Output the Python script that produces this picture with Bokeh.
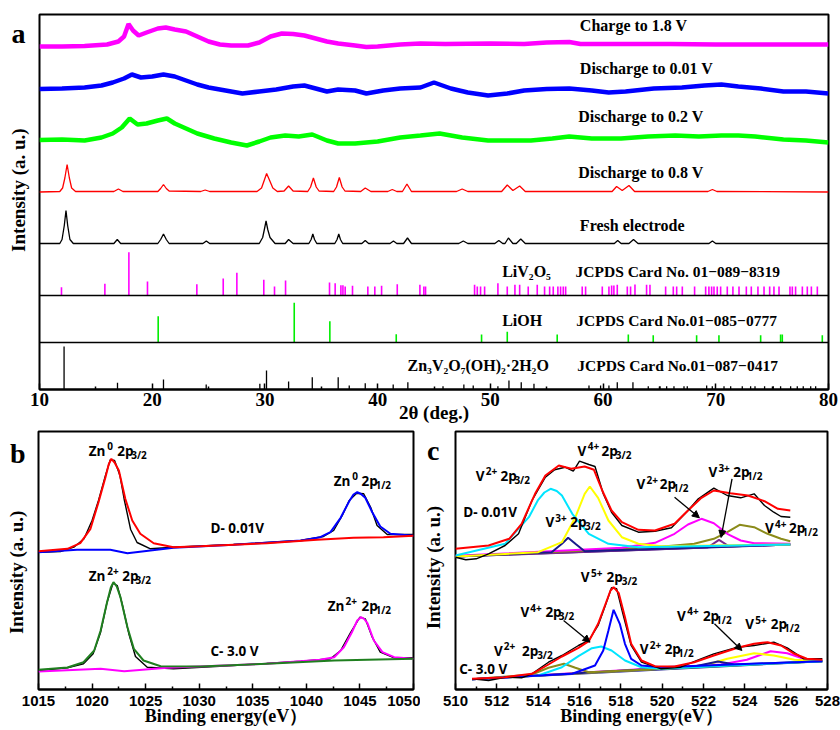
import numpy as np
from bokeh.plotting import figure
from bokeh.layouts import column, row
from bokeh.models import Range1d, Label, Arrow, NormalHead, Span, FixedTicker
from bokeh.embed import file_html
from bokeh.resources import INLINE

# ---------------- Panel a : XRD (2theta, relative intensity) ----------------
charge18_x = [10, 12, 14, 16, 17, 17.5, 17.9, 18.3, 18.8, 19.5, 20.5, 21.2, 22, 23, 24, 25, 26, 27, 28.5, 29.5,
              30.5, 31.5, 32.5, 33.5, 34.5, 35.5, 36.5, 38, 39, 40, 42, 43.8, 46, 50, 53, 55, 57, 58, 62, 66, 70, 75, 80]
charge18_y = [0, 0, 0.5, 2, 5, 10, 22.5, 16, 11, 14, 18, 19, 17, 15, 10, 5, 2, 1, 1, 4,
              10, 13, 12.5, 11, 8, 5, 3, 1, -0.5, 0, 2, 3, 2.5, 3, 2.5, 4, 4.5, 2.5, 2.5, 2.5, 2, 2, 2]

dis001_x = [10, 12, 14, 15.5, 16.5, 17.5, 18.2, 19, 20, 21, 22, 23, 24, 25, 26.5, 28, 29.5, 31, 32.5, 33.5,
            34.5, 35.5, 36.5, 38, 39, 40.5, 42, 43.8, 45, 46.5, 48, 49.8, 51.5, 53, 55, 57, 59, 60.5, 62, 64.5,
            67, 69, 70.5, 72, 74, 76, 78, 80]
dis001_y = [-0.5, 0, 1, 3, 6, 10, 14, 11, 12, 14, 12, 8, 4, 1, -2, -5, -3, -1, 2, 3,
            0, -3, -1, -2, -5, -2, 0, 1, 6, 0, -4, -7, -5, -2, -0.5, 0, -2, -4, -3, 0,
            1, 3, 4, 2, 0, -3, -3, -5]

dis02_x = [10, 12, 14, 15.5, 16.5, 17.3, 18, 18.7, 19.5, 20.5, 21.3, 22, 23, 24, 25.5, 27, 28.4, 29.5, 30.5, 31.8,
           33, 34.2, 35.5, 36.5, 38, 40, 42, 43.8, 45.5, 47.5, 49.8, 52, 53.6, 55.5, 57, 59, 61.6, 64, 66.4, 68.5,
           70.5, 72, 73.5, 76, 78, 80]
dis02_y = [0.5, 1, 0, 3, 7, 13, 22, 16, 17, 20, 22, 17, 12, 7, 2, -2, -5, -1, 3, 5,
           4, 6, 0, -3, -3, -1, 3, 5, 7, 3, 0, 0, 0, 2, 4, 2, 2, 4, 5, 4,
           5, 5, 4, 1, 0, -2]

dis08_x = [10, 11.8, 12.05, 12.25, 12.45, 12.65, 12.85, 13.2, 16.6, 17.0, 17.4, 20.5, 20.75, 21.0, 21.25, 21.5,
           24.3, 24.7, 25.1, 29.3, 29.7, 29.95, 30.15, 30.4, 30.7, 31.1, 31.7, 32.1, 32.5, 33.8, 34.05, 34.3,
           34.55, 34.8, 36.1, 36.35, 36.6, 36.85, 37.1, 38.5, 38.9, 39.4, 40.9, 41.3, 41.7, 42.2, 42.6, 43.0,
           47.0, 47.5, 48.0, 51.0, 51.5, 52.0, 52.6, 53.1, 60.8, 61.2, 61.7, 62.3, 62.8, 69.3, 69.7, 70.1, 80]
dis08_y = [0, 0.5, 4, 14, 27.5, 14, 4, 0.5, 0.5, 3, 0.5, 0.5, 3.5, 7.5, 3.5, 1,
           0.5, 2, 0.5, 0.5, 4, 12, 18.5, 12, 4, 0.5, 1, 6, 1, 0.5, 5, 14,
           5, 1, 0.5, 5, 14.5, 5, 1, 0.5, 4, 0.5, 0.5, 2.5, 0.5, 0.5, 8, 0.5,
           0.5, 3, 0.5, 0.5, 7, 1.5, 6, 0.5, 0.5, 5.5, 1.5, 6.5, 0.5, 0.5, 2.5, 0.5, 0]

fresh_x = [10, 11.8, 12.0, 12.2, 12.35, 12.5, 12.7, 13.0, 16.6, 16.9, 17.2, 20.5, 20.75, 21.0, 21.25, 21.5,
           24.5, 24.8, 25.1, 29.5, 29.8, 29.95, 30.1, 30.25, 30.45, 30.9, 31.8, 32.1, 32.5, 33.9, 34.1, 34.25,
           34.4, 34.6, 36.2, 36.4, 36.55, 36.7, 36.9, 38.6, 38.9, 39.2, 41.1, 41.4, 41.7, 42.3, 42.65, 43.0,
           47.2, 47.6, 48.0, 50.4, 50.75, 51.1, 51.3, 51.6, 52.0, 52.3, 52.7, 53.1, 61.0, 61.3, 61.6, 62.3,
           62.7, 63.1, 69.4, 69.7, 70.0, 80]
fresh_y = [0, 0, 4, 18, 33, 18, 4, 0, 0, 4, 0, 0, 4, 9.5, 4, 0,
           0, 2.5, 0, 0, 6, 14, 22.5, 14, 6, 0, 0, 4, 0, 0, 4, 9.5,
           4, 0, 0, 4, 9.5, 4, 0, 0, 3, 0, 0, 2.5, 0, 0, 5.5, 0,
           0, 2.5, 0, 0, 3, 0, 0, 5.5, 0, 0, 4.5, 0, 0, 3, 0, 0,
           4, 0, 0, 2.5, 0, 0]

liv2o5_pos = [11.95, 15.8, 17.93, 19.58, 23.96, 26.3, 27.51, 29.9, 30.85, 31.83, 35.73, 36.23, 36.74, 36.92,
              37.12, 37.77, 39.13, 39.75, 40.35, 41.74, 43.75, 44.1, 44.25, 48.6, 48.84, 49.13, 49.49, 50.67,
              51.5, 52.18, 52.6, 53.36, 54.16, 54.81, 55.26, 55.58, 55.99, 56.23, 56.47, 56.68, 58.15, 58.45,
              59.93, 60.52, 60.76, 60.96, 61.26, 62.15, 62.44, 62.83, 63.86, 64.16, 65.55, 66.23, 66.53, 67.03,
              68.12, 69.1, 69.39, 69.63, 69.84, 70.13, 70.43, 71.02, 71.52, 72.06, 72.71, 73.15, 73.74, 74.28,
              74.78, 75.16, 75.61, 76.58, 76.79, 77.08, 77.68, 78.12, 78.48, 79.01]
liv2o5_int = [8.3, 11.7, 43.3, 14, 11.3, 17, 22.7, 15.7, 9, 15, 13, 12.3, 10.3, 10.3,
              9, 9.7, 9, 9, 9.7, 11.3, 10.7, 9, 9, 10.7, 9, 9, 9, 12.3,
              9, 10.7, 10.7, 9, 10.7, 9, 9, 9, 9, 9, 9, 9, 9, 9,
              9, 9, 10, 10, 10.7, 9, 9, 11, 10.7, 10.7, 9, 9, 9, 9,
              9, 9, 9, 9, 9, 9, 9, 9, 9, 9, 9, 9, 9, 9,
              9, 9, 9, 9, 9, 9, 9, 9, 9, 9]

lioh_pos = [20.53, 32.6, 35.76, 41.65, 49.22, 51.5, 55.93, 62.24, 64.45, 68.3, 70.28, 73.98, 75.75, 75.9, 79.45]
lioh_int = [26.3, 39.7, 21.3, 8.3, 8, 10.7, 8, 8, 7.3, 7.3, 7.3, 7.3, 8, 8, 7.3]

znvo_pos = [12.18, 16.92, 21.0, 24.79, 29.55, 30.14, 32.1, 34.2, 36.5, 37.48, 38.9, 41.38, 42.68, 45.8, 47.65,
            48.48, 50.67, 51.65, 52.74, 53.87, 58.75, 59.78, 60.52, 61.26, 62.65, 64.01, 65.05, 65.64, 66.29,
            67.18, 67.47, 69.19, 69.69, 70.73, 71.32, 72.35, 73.09, 73.48, 74.33, 75.1, 75.75, 76.64, 77.23,
            77.76, 78.42, 78.86]
znvo_int = [43, 6.7, 10, 5, 5.7, 19, 8, 12.3, 12.3, 4, 6.3, 5, 7.3, 3.3, 5,
            4, 3.3, 9, 7.3, 5.7, 4, 4, 4, 7.3, 7.3, 3.3, 3.3, 3.3, 3.3,
            3.3, 3.3, 4, 3.3, 3.3, 3.3, 3.3, 3.3, 3.3, 3.3, 3.3, 3.3, 3.3, 3.3,
            3.3, 3.3, 3.3]

xrd_ticks = [10, 20, 30, 40, 50, 60, 70, 80]

# ---------------- Panel b : Zn 2p XPS ----------------
zn_d_data_x = [1015.0, 1017.05, 1018.3, 1019.25, 1020.0, 1020.6, 1021.25, 1021.7, 1022.1, 1022.6, 1023.0, 1023.6,
               1024.2, 1025.45, 1027.6, 1033.2, 1039.45, 1041.6, 1042.55, 1043.35, 1044.0, 1044.7, 1045.35,
               1046.0, 1046.6, 1047.55, 1050.0]
zn_d_data_y = [137.3, 138, 142.3, 150.7, 169, 189, 214, 229.7, 229, 214, 190, 160,
               147, 140.7, 142.3, 145, 149, 153, 159, 174, 189, 196.3, 195.7,
               182.3, 164, 155, 155]
zn_d_p32_x = [1015.0, 1017.7, 1018.9, 1019.85, 1020.6, 1021.25, 1021.55, 1021.8, 1022.1, 1022.5, 1023.1, 1023.75,
              1024.5, 1025.75, 1027.6, 1030.1, 1036.3, 1041.0, 1044.4, 1047.2, 1050.0]
zn_d_p32_y = [138.3, 140.7, 146.3, 160.7, 187.3, 212.3, 225, 230.7, 227, 219, 190.7, 169,
              155.7, 146.3, 142.3, 143.3, 146.3, 149.7, 151.7, 152.3, 153.7]
zn_d_p12_x = [1015.0, 1018.6, 1021.7, 1023.3, 1025.45, 1027.6, 1033.2, 1039.5, 1041.3, 1042.25, 1043.2, 1044.0,
              1044.4, 1044.75, 1045.1, 1045.5, 1046.15, 1046.9, 1047.85, 1050.0]
zn_d_p12_y = [137.3, 139.7, 139.7, 136.3, 139, 141.7, 144.7, 149, 152.3, 157.3, 171.7, 188.3,
              195, 197.3, 195.5, 191.7, 177.3, 163, 155.7, 153.7]

zn_c_data_x = [1015.0, 1017.7, 1019.2, 1020.1, 1020.8, 1021.4, 1021.95, 1022.35, 1022.8, 1023.45, 1024.05, 1025.15,
               1027.6, 1033.2, 1039.5, 1042.25, 1043.2, 1044.1, 1045.0, 1045.5, 1046.15, 1046.9, 1048.2, 1050.0]
zn_c_data_y = [19, 21.7, 25.7, 35.7, 57.3, 87.3, 106.3, 104, 86, 55, 33, 22.3,
               20.7, 24, 28.3, 30.7, 39, 56.3, 72.3, 70.7, 52.3, 37.3, 31.7, 31.7]
zn_c_p32_x = [1015.0, 1017.7, 1019.2, 1020.2, 1020.8, 1021.4, 1021.75, 1022.0, 1022.3, 1022.65, 1023.3, 1023.9,
              1024.8, 1026.4, 1030.1, 1036.3, 1042.6, 1045.7, 1050.0]
zn_c_p32_y = [19.7, 22, 27.3, 39, 59, 87.3, 102, 107.3, 103, 92.3, 62.3, 40.7,
              29, 23.3, 23, 25.7, 29, 29.7, 30.7]
zn_c_p12_x = [1015.0, 1020.8, 1023.0, 1027.0, 1036.3, 1041.3, 1042.6, 1043.5, 1044.3, 1044.75, 1045.1, 1045.4,
              1045.7, 1046.3, 1047.1, 1048.2, 1050.0]
zn_c_p12_y = [18, 20.7, 18.3, 21.7, 25.7, 29.7, 32.3, 42.3, 58.3, 69, 72.3, 70.5,
              66.3, 49, 37.3, 32.3, 30.7]

# ---------------- Panel c : V 2p XPS ----------------
v_d_data_x = [510.0, 510.5, 511.0, 511.6, 512.4, 513.05, 513.7, 514.35, 514.8, 515.3, 515.7, 516.0, 516.45, 516.75,
              517.15, 517.55, 518.05, 518.85, 519.65, 520.45, 521.25, 521.75, 522.5, 523.15, 523.8, 524.45, 524.95,
              525.4, 525.75, 526.2]
v_d_data_y = [132.3, 129.7, 130.7, 135.7, 144, 155.7, 189, 212.3, 219.7, 222.3, 218.3, 228.3, 225, 223,
              195.7, 177.3, 164, 157.3, 158.3, 161.7, 179, 190.7, 201.3, 194, 191.7, 195.7, 184,
              177.3, 173, 172.3]
v_d_env_x = [510.0, 511.6, 512.6, 513.2, 513.85, 514.35, 515.0, 515.6, 516.25, 516.7, 517.1, 517.55, 518.05, 518.85,
             519.65, 520.6, 521.25, 521.9, 522.5, 523.3, 524.15, 524.95, 525.6, 526.2]
v_d_env_y = [140.7, 144, 150.7, 165.7, 195.7, 214, 224, 220.7, 223, 219.7, 199, 179, 167.3, 159.7,
             159, 165.7, 179, 191.7, 199, 196.3, 194, 188.3, 180.7, 179]
v_d_v2p32_x = [510.0, 512.4, 513.55, 514.0, 514.3, 514.6, 514.9, 515.15, 515.65, 516.45, 517.4, 518.85, 526.2]
v_d_v2p32_y = [134, 145.7, 172.3, 189.7, 197, 200.7, 198.5, 194, 175.7, 155.7, 145.7, 142.3, 145]
v_d_v4p32_x = [510.0, 514.0, 515.15, 515.8, 516.25, 516.5, 516.9, 517.4, 518.05, 518.85, 519.95, 526.2]
v_d_v4p32_y = [133, 137.3, 147.3, 172.3, 195.7, 203, 191.7, 169, 152.3, 145.7, 143.3, 145]
v_d_v3p32_x = [510.0, 514.65, 515.15, 515.45, 515.8, 516.25, 526.2]
v_d_v3p32_y = [133, 137.3, 145.7, 151.7, 145.7, 138.3, 145]
v_d_v2p12_x = [510.0, 518.05, 519.65, 520.6, 521.25, 521.9, 522.5, 523.15, 523.8, 524.45, 526.2]
v_d_v2p12_y = [133.7, 141.7, 146.7, 155.7, 165, 170.7, 166.3, 155.7, 149, 146.3, 145.7]
v_d_v4p12_x = [510.0, 519.65, 521.55, 522.5, 523.15, 523.75, 524.45, 525.1, 525.75, 526.2]
v_d_v4p12_y = [133, 142.3, 145.7, 150.7, 157.3, 164.7, 162.3, 155.7, 150.7, 148.3]
v_d_v3p12_x = [510.0, 522.2, 522.75, 523.25, 526.2]
v_d_v3p12_y = [133, 142, 149.7, 143, 145]
v_d_base_x = [510.0, 526.2]
v_d_base_y = [133, 145]

v_c_data_x = [510.8, 511.6, 512.4, 513.2, 513.7, 514.5, 515.15, 515.95, 516.45, 516.9, 517.25, 517.55, 517.8,
              518.1, 518.5, 519.0, 519.95, 520.9, 521.75, 522.5, 523.65, 524.45, 525.4, 526.05, 526.85, 527.75]
v_c_data_y = [10.7, 9, 12.3, 11.7, 15.7, 27.3, 34, 44, 49, 64, 84, 101.7, 100.7,
              75.7, 44, 27.3, 20.7, 22.3, 29.7, 35.7, 42.3, 44, 47.3, 41.7, 30.7, 30.7]
v_c_env_x = [510.8, 512.4, 513.7, 514.5, 515.15, 515.95, 516.45, 516.9, 517.25, 517.5, 517.65, 517.9, 518.2,
             518.5, 519.0, 519.65, 520.6, 521.55, 522.5, 523.65, 524.45, 525.1, 525.75, 526.4, 527.0, 527.75]
v_c_env_y = [10.7, 12.3, 15.7, 25, 33, 41.7, 48.3, 65.7, 85, 99, 102.3, 96.3, 72.3,
             45.7, 29, 23.3, 23, 27.3, 34, 41.7, 45.7, 47.3, 44, 35.7, 30.7, 29.7]
v_c_v5p32_x = [510.8, 515.65, 516.75, 517.15, 517.4, 517.65, 517.95, 518.2, 518.5, 519.0, 519.95, 527.75]
v_c_v5p32_y = [10.3, 15.7, 24, 39, 59, 79.7, 65.7, 45.7, 30.7, 24, 22.3, 28.3]
v_c_v4p32_x = [510.8, 514.0, 515.15, 515.95, 516.6, 517.05, 517.55, 518.2, 519.0, 519.95, 527.75]
v_c_v4p32_y = [10.3, 14, 22.3, 33.3, 41.3, 43, 39, 29, 22.3, 20.7, 28.3]
v_c_v2p32_x = [510.8, 513.7, 514.5, 515.25, 515.8, 516.45, 527.75]
v_c_v2p32_y = [10.3, 15, 21.7, 25.7, 21.7, 17.3, 28.3]
v_c_v2p12_x = [510.8, 521.55, 522.7, 523.5, 527.75]
v_c_v2p12_y = [10.3, 23, 28, 25, 28.3]
v_c_v4p12_x = [510.8, 521.25, 522.2, 523.15, 524.45, 525.4, 526.4, 527.75]
v_c_v4p12_y = [10.3, 22.3, 25, 30.7, 36.3, 34, 29.7, 28.3]
v_c_v5p12_x = [510.8, 522.85, 524.1, 525.25, 526.05, 526.85, 527.75]
v_c_v5p12_y = [10.3, 25, 29.7, 38.3, 36.3, 30.7, 29]
v_c_base_x = [510.8, 527.75]
v_c_base_y = [10.3, 28.3]

zn_ticks = [1015, 1020, 1025, 1030, 1035, 1040, 1045, 1050]
v_ticks = [510, 512, 514, 516, 518, 520, 522, 524, 526, 528]

# ---------------- helpers ----------------
SERIF = "Liberation Serif"
SANS = "Open Sans"
NB = "\u00a0"


def make_fig(xr, yr, w, h, left, right, top, bottom, ticks, minor, tick_font, tick_size, standoff,
             xlabel, xlabel_size, xlabel_standoff):
    p = figure(width=w, height=h, x_range=Range1d(*xr), y_range=Range1d(*yr),
               output_backend="svg", toolbar_location=None,
               min_border_left=left, min_border_right=right,
               min_border_top=top, min_border_bottom=bottom)
    p.grid.visible = False
    p.outline_line_color = "black"
    p.outline_line_width = 2
    p.outline_line_alpha = 1
    p.background_fill_color = "white"
    p.border_fill_color = "white"
    ax = p.xaxis[0]
    ax.ticker = FixedTicker(ticks=ticks, minor_ticks=minor)
    ax.axis_line_width = 2
    ax.major_tick_in = 6
    ax.major_tick_out = 0
    ax.minor_tick_in = 3
    ax.minor_tick_out = 0
    ax.major_tick_line_width = 1.5
    ax.minor_tick_line_width = 1.5
    ax.major_label_text_font = tick_font
    ax.major_label_text_font_style = "bold"
    ax.major_label_text_font_size = tick_size
    ax.major_label_text_color = "black"
    ax.major_label_standoff = standoff
    ax.axis_label = xlabel
    ax.axis_label_text_font = SERIF
    ax.axis_label_text_font_style = "bold"
    ax.axis_label_text_font_size = xlabel_size
    ax.axis_label_text_color = "black"
    ax.axis_label_standoff = xlabel_standoff
    return p


def left_side(p, letter_y, letter, letter_standoff, title, title_standoff):
    # the panel letter is shown as the single label of the (line-less) y axis,
    # and the axis title carries the "Intensity (a. u.)" text
    ay = p.yaxis[0]
    ay.ticker = FixedTicker(ticks=[letter_y], minor_ticks=[])
    ay.major_label_overrides = {letter_y: letter}
    ay.axis_line_color = None
    ay.major_tick_line_color = None
    ay.minor_tick_line_color = None
    ay.major_tick_in = 0
    ay.major_tick_out = 0
    ay.minor_tick_in = 0
    ay.minor_tick_out = 0
    ay.major_label_standoff = letter_standoff
    ay.major_label_text_font = SERIF
    ay.major_label_text_font_style = "bold"
    ay.major_label_text_font_size = "28px"
    ay.major_label_text_color = "black"
    ay.axis_label = title
    ay.axis_label_text_font = SERIF
    ay.axis_label_text_font_style = "bold"
    ay.axis_label_text_font_size = "19px"
    ay.axis_label_text_color = "black"
    ay.axis_label_standoff = title_standoff


def lab(p, x, y, text, size, font=SANS, align="left", baseline="middle"):
    p.add_layout(Label(x=x, y=y, text=text, text_font=font, text_font_size=size,
                       text_font_style="bold", text_align=align, text_baseline=baseline,
                       text_color="black"))


def peak_label(p, parts):
    for x, y, t, s in parts:
        lab(p, x, y, t, s)


def arrow(p, x0, y0, x1, y1):
    p.add_layout(Arrow(end=NormalHead(size=7, fill_color="black", line_color="black", line_width=1),
                       x_start=x0, y_start=y0, x_end=x1, y_end=y1,
                       line_color="black", line_width=1.3))


BASE = "13.5px"
SMALL = "10px"

# ---------------- Panel a ----------------
pa = make_fig((10, 80), (0, 375), 840, 427, 39, 12, 14, 38,
              xrd_ticks, [15, 25, 35, 45, 55, 65, 75], "Liberation Sans Narrow", "19px", 3,
              "2\u03b8 (deg.)", "19px", -7)
left_side(pa, 356, "a", 14, NB * 5 + "Intensity (a. u.)", -20)

off_charge, off_d001, off_d02, off_d08, off_fresh = 343, 301, 249, 197.5, 146
off_liv, off_lioh, off_zn = 94, 47, 0

pa.line(charge18_x, np.array(charge18_y) + off_charge, line_color="#ff00ff", line_width=4.5)
pa.line(dis001_x, np.array(dis001_y) + off_d001, line_color="#0000ff", line_width=4.5)
pa.line(dis02_x, np.array(dis02_y) + off_d02, line_color="#00ff00", line_width=4.5)
pa.line(dis08_x, np.array(dis08_y) + off_d08, line_color="#ff0000", line_width=1.3)
pa.line(fresh_x, np.array(fresh_y) + off_fresh, line_color="black", line_width=1.3)

pa.segment(x0=liv2o5_pos, y0=[off_liv] * len(liv2o5_pos), x1=liv2o5_pos,
           y1=list(np.array(liv2o5_int) + off_liv), line_color="#ff00ff", line_width=1.6)
pa.segment(x0=lioh_pos, y0=[off_lioh] * len(lioh_pos), x1=lioh_pos,
           y1=list(np.array(lioh_int) + off_lioh), line_color="#00ee00", line_width=1.6)
pa.segment(x0=znvo_pos, y0=[off_zn] * len(znvo_pos), x1=znvo_pos,
           y1=list(np.array(znvo_int) + off_zn), line_color="black", line_width=1.3)

pa.add_layout(Span(location=off_liv, dimension="width", line_color="black", line_width=1.6))
pa.add_layout(Span(location=off_lioh, dimension="width", line_color="black", line_width=1.6))

XF = "16px"
lab(pa, 57.94, 364, "Charge to 1.8 V", XF, SERIF)
lab(pa, 57.94, 320.7, "Discharge to 0.01 V", XF, SERIF)
lab(pa, 57.8, 273, "Discharge to 0.2 V", XF, SERIF)
lab(pa, 57.8, 217.3, "Discharge to 0.8 V", XF, SERIF)
lab(pa, 57.94, 164, "Fresh electrode", XF, SERIF)
lab(pa, 51.05, 118, "LiV\u2082O\u2085", XF, SERIF)
lab(pa, 57.56, 118, "JCPDS Card No. 01\u2212089\u22128319", "15.5px", SERIF)
lab(pa, 51.05, 69, "LiOH", XF, SERIF)
lab(pa, 57.62, 69, "JCPDS Card No.01\u2212085\u22120777", "15.5px", SERIF)
lab(pa, 55.19, 24, "Zn\u2083V\u2082O\u2087(OH)\u2082\u00b72H\u2082O", XF, SERIF, align="right")
lab(pa, 57.71, 24, "JCPDS Card No.01\u2212087\u22120417", "15.5px", SERIF)

# ---------------- Panel b ----------------
pb = make_fig((1015, 1050), (0, 258), 420, 303, 38, 7, 4, 41,
              zn_ticks, [1017.5, 1022.5, 1027.5, 1032.5, 1037.5, 1042.5, 1047.5],
              "Liberation Sans", "15px", 6, "Binding energy(eV\uff09", "18px", -3)
left_side(pb, 236, "b", 13, "Intensity (a. u.)" + NB * 5, -20)

pb.line(zn_d_data_x, zn_d_data_y, line_color="black", line_width=1.4)
pb.line(zn_d_p12_x, zn_d_p12_y, line_color="#0000ff", line_width=2)
pb.line(zn_d_p32_x, zn_d_p32_y, line_color="#ff0000", line_width=2)
pb.line(zn_c_data_x, zn_c_data_y, line_color="black", line_width=1.4)
pb.line(zn_c_p12_x, zn_c_p12_y, line_color="#ff00ff", line_width=2)
pb.line(zn_c_p32_x, zn_c_p32_y, line_color="#1f7f1f", line_width=2)

peak_label(pb, [(1019.69, 239, "Zn", BASE), (1021.41, 243.3, "0", SMALL),
                (1022.35, 239, "2p", BASE), (1023.65, 235, "3/2", SMALL)])
peak_label(pb, [(1042.56, 209, "Zn", BASE), (1044.28, 213.3, "0", SMALL),
                (1045.15, 209, "2p", BASE), (1046.45, 205, "1/2", SMALL)])
peak_label(pb, [(1019.69, 114, "Zn", BASE), (1021.41, 118.3, "2+", SMALL),
                (1022.81, 114, "2p", BASE), (1024.05, 110, "3/2", SMALL)])
peak_label(pb, [(1042.0, 84, "Zn", BASE), (1043.65, 88.3, "2+", SMALL),
                (1045.15, 84, "2p", BASE), (1046.45, 80, "1/2", SMALL)])
lab(pb, 1031.05, 161.7, "D- 0.01V", BASE)
lab(pb, 1031.05, 39, "C- 3.0 V", BASE)

# ---------------- Panel c ----------------
pc = make_fig((510, 528), (0, 258), 420, 303, 33, 13, 4, 41,
              v_ticks, [511, 513, 515, 517, 519, 521, 523, 525, 527],
              "Liberation Sans", "15px", 6, "Binding energy(eV\uff09", "18px", -3)
left_side(pc, 239, "c", 16, "Intensity (a. u.)" + NB * 3, -20)

NAVY = "#1a1a8c"
pc.line(v_d_base_x, v_d_base_y, line_color=NAVY, line_width=2)
pc.line(v_d_v3p12_x, v_d_v3p12_y, line_color="#7b2a8c", line_width=2)
pc.line(v_d_v4p12_x, v_d_v4p12_y, line_color="#8b8b1a", line_width=2)
pc.line(v_d_v2p12_x, v_d_v2p12_y, line_color="#ff00ff", line_width=2)
pc.line(v_d_v3p32_x, v_d_v3p32_y, line_color=NAVY, line_width=2)
pc.line(v_d_v4p32_x, v_d_v4p32_y, line_color="#ffff00", line_width=2)
pc.line(v_d_v2p32_x, v_d_v2p32_y, line_color="#00e5ff", line_width=2)
pc.line(v_d_data_x, v_d_data_y, line_color="black", line_width=1.4)
pc.line(v_d_env_x, v_d_env_y, line_color="#ff0000", line_width=2)

pc.line(v_c_base_x, v_c_base_y, line_color=NAVY, line_width=2)
pc.line(v_c_v5p12_x, v_c_v5p12_y, line_color="#ff00ff", line_width=2)
pc.line(v_c_v4p12_x, v_c_v4p12_y, line_color="#ffff00", line_width=2)
pc.line(v_c_v2p12_x, v_c_v2p12_y, line_color=NAVY, line_width=2)
pc.line(v_c_v2p32_x, v_c_v2p32_y, line_color="#8b8b1a", line_width=2)
pc.line(v_c_v4p32_x, v_c_v4p32_y, line_color="#00e5ff", line_width=2)
pc.line(v_c_v5p32_x, v_c_v5p32_y, line_color="#0000ff", line_width=2)
pc.line(v_c_data_x, v_c_data_y, line_color="black", line_width=1.4)
pc.line(v_c_env_x, v_c_env_y, line_color="#ff0000", line_width=2)

peak_label(pc, [(515.90, 239, "V", BASE), (516.40, 243.3, "4+", SMALL),
                (517.07, 239, "2p", BASE), (517.76, 235, "3/2", SMALL)])
peak_label(pc, [(510.98, 214, "V", BASE), (511.46, 218.3, "2+", SMALL),
                (512.18, 214, "2p", BASE), (512.85, 210, "3/2", SMALL)])
lab(pc, 510.38, 177.3, "D- 0.01V", BASE)
peak_label(pc, [(514.35, 167.3, "V", BASE), (514.83, 171.6, "3+", SMALL),
                (515.55, 167.3, "2p", BASE), (516.27, 163.3, "3/2", SMALL)])
peak_label(pc, [(518.76, 205.7, "V", BASE), (519.24, 210, "2+", SMALL),
                (519.88, 205.7, "2p", BASE), (520.52, 201.7, "1/2", SMALL)])
peak_label(pc, [(522.24, 217.3, "V", BASE), (522.72, 221.6, "3+", SMALL),
                (523.44, 217.3, "2p", BASE), (524.10, 213.3, "1/2", SMALL)])
peak_label(pc, [(524.98, 161.7, "V", BASE), (525.46, 166, "4+", SMALL),
                (526.14, 161.7, "2p", BASE), (526.78, 157.7, "1/2", SMALL)])
arrow(pc, 520.60, 192.3, 521.80, 171.7)
arrow(pc, 523.38, 210.7, 522.85, 152)

peak_label(pc, [(516.06, 112.3, "V", BASE), (516.56, 116.6, "5+", SMALL),
                (517.31, 112.3, "2p", BASE), (518.04, 108.3, "3/2", SMALL)])
peak_label(pc, [(513.14, 77.3, "V", BASE), (513.62, 81.6, "4+", SMALL),
                (514.35, 77.3, "2p", BASE), (514.99, 73.3, "3/2", SMALL)])
arrow(pc, 515.23, 69, 516.51, 47.3)
peak_label(pc, [(511.86, 39, "V", BASE), (512.34, 43.3, "2+", SMALL),
                (513.22, 39, "2p", BASE), (513.95, 35, "3/2", SMALL)])
lab(pc, 510.18, 20.7, "C- 3.0 V", BASE)
peak_label(pc, [(518.92, 40.7, "V", BASE), (519.40, 45, "2+", SMALL),
                (520.12, 40.7, "2p", BASE), (520.77, 36.7, "1/2", SMALL)])
peak_label(pc, [(520.72, 74, "V", BASE), (521.21, 78.3, "4+", SMALL),
                (521.97, 74, "2p", BASE), (522.61, 70, "1/2", SMALL)])
arrow(pc, 522.53, 65.7, 523.86, 39)
peak_label(pc, [(524.02, 65.7, "V", BASE), (524.50, 70, "5+", SMALL),
                (525.26, 65.7, "2p", BASE), (525.90, 61.7, "1/2", SMALL)])

layout = column(pa, row(pb, pc, spacing=0), spacing=0)
open("out.html", "w").write(file_html(layout, INLINE))
